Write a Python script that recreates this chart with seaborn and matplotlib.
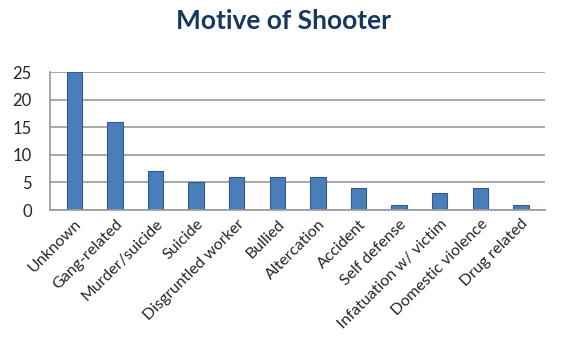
import matplotlib
matplotlib.use('Agg')
import matplotlib.pyplot as plt
import seaborn as sns
import pandas as pd

# dados do grafico
motivos = ['Unknown', 'Gang-related', 'Murder/suicide', 'Suicide', 'Disgruntled worker',
           'Bullied', 'Altercation', 'Accident', 'Self defense', 'Infatuation w/ victim',
           'Domestic violence', 'Drug related']
contagem = [25, 16, 7, 5, 6, 6, 6, 4, 1, 3, 4, 1]
y_ticks = [0, 5, 10, 15, 20, 25]

df = pd.DataFrame({'motivo': motivos, 'n': contagem})

sns.set_style('white')
plt.rcParams['font.family'] = ['Lato', 'DejaVu Sans']

fig = plt.figure(figsize=(5.68, 3.53), dpi=100)
ax = fig.add_axes([0.088, 0.405, 0.872, 0.391])

ax.set_ylim(0, 25)
ax.set_yticks(y_ticks)
ax.yaxis.grid(True, color='#9a9a9a', linewidth=1.2)
ax.set_axisbelow(True)

sns.barplot(data=df, x='motivo', y='n', color='#4A7EBB', width=0.38,
            edgecolor='#2f5b8f', linewidth=0.8, saturation=1, ax=ax)

for s in ['top', 'right']:
    ax.spines[s].set_visible(False)
ax.spines['left'].set_color('#9a9a9a')
ax.spines['bottom'].set_color('#9a9a9a')
ax.spines['left'].set_linewidth(1.2)
ax.spines['bottom'].set_linewidth(1.2)

ax.set_xlabel('')
ax.set_ylabel('')
ax.tick_params(axis='y', labelsize=12, length=0, pad=13)
ax.tick_params(axis='x', length=0, pad=5)
plt.setp(ax.get_xticklabels(), rotation=45, ha='right', rotation_mode='anchor', fontsize=11.5)
ax.set_xlim(-0.6, 11.6)

fig.suptitle('Motive of Shooter', x=0.5, y=0.975, fontsize=19, fontweight='bold', color='#17375E')

fig.savefig('out.png', dpi=100)
